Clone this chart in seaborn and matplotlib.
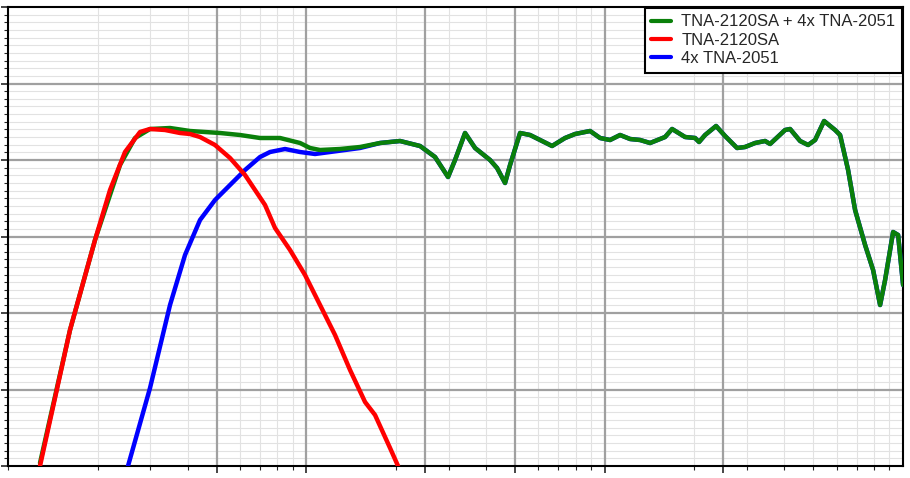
import numpy as np
import pandas as pd
import matplotlib
matplotlib.use("Agg")
import matplotlib.pyplot as plt
import seaborn as sns
from matplotlib.ticker import FixedLocator, MultipleLocator, NullFormatter

# digitized in pixel space -> converted to (Hz, dB)
sum_px = [40,70,95,120,135,150,170,190,220,240,260,280,300,310,320,340,360,380,400,420,435,448,455,465,475,490,497,505,510,520,530,540,552,565,575,590,600,610,620,630,640,650,665,672,685,695,699,705,716,725,737,745,755,765,770,785,790,800,808,815,824,835,840,848,855,865,873,880,885,893,898,903]
sum_py = [463,330,240,165,138,129,128,131,133,135,138,138,143,148,150,149,147,143,141,146,157,177,160,133,148,160,168,183,165,133,135,140,146,138,134,131,138,140,135,139,140,143,137,129,137,138,142,135,126,136,148,147,143,141,144,130,129,141,145,140,121,130,135,170,210,245,270,305,280,232,235,285]
red_px = [40,70,95,110,125,140,150,165,180,190,200,215,230,245,265,275,290,305,320,335,350,365,375,385,390,398]
red_py = [466,330,240,190,152,132,129,130,133,134,137,145,158,175,205,228,250,275,305,335,370,402,415,437,448,466]
blue_px = [128,150,170,185,200,215,230,245,260,270,285,300,315,330,345,360,380,400,420]
blue_py = [466,388,305,255,220,200,185,170,157,152,149,152,154,152,150,148,143,141,146]

def fx(p): return 10 ** (1 + (np.array(p, float) - 8) / 298.3)
def fy(p): return (466 - np.array(p, float)) / 7.65

sum_f, sum_db = fx(sum_px), fy(sum_py)
red_f, red_db = fx(red_px), fy(red_py)
i0 = sum_px.index(420)
blue_f = np.concatenate([fx(blue_px), sum_f[i0 + 1:]])
blue_db = np.concatenate([fy(blue_py), sum_db[i0 + 1:]])

labels = ["TNA-2120SA + 4x TNA-2051", "TNA-2120SA", "4x TNA-2051"]
colors = ["#0a800a", "#ff0000", "#0000ff"]
majors = [50, 100, 250, 500, 1000, 2500]
ymajors = [10, 20, 30, 40, 50]

sns.set_style("white")
plt.rcParams["font.family"] = ["Liberation Sans", "DejaVu Sans"]
fig = plt.figure(figsize=(9.1, 4.78), dpi=100)
ax = fig.add_axes([8 / 910, 12 / 478, 895 / 910, 459 / 478])

dfs = {
    labels[2]: pd.DataFrame({"f": blue_f, "db": blue_db}),
    labels[0]: pd.DataFrame({"f": sum_f, "db": sum_db}),
    labels[1]: pd.DataFrame({"f": red_f, "db": red_db}),
}
handles = {}
for lab in [labels[2], labels[0], labels[1]]:
    c = colors[labels.index(lab)]
    sns.lineplot(data=dfs[lab], x="f", y="db", sort=False, color=c, lw=3.2,
                 ax=ax, solid_joinstyle="round", solid_capstyle="round", zorder=3)
    handles[lab] = ax.lines[-1]

ax.set_xscale("log")
ax.set_xlim(10, 10000)
ax.set_ylim(0, 60)
ax.xaxis.set_major_locator(FixedLocator(majors))
minors = [m * d for d in [10, 100, 1000] for m in range(1, 10)]
ax.xaxis.set_minor_locator(FixedLocator([v for v in minors if v not in majors]))
ax.yaxis.set_major_locator(MultipleLocator(10))
ax.yaxis.set_minor_locator(MultipleLocator(1))
ax.xaxis.set_major_formatter(NullFormatter())
ax.xaxis.set_minor_formatter(NullFormatter())
ax.yaxis.set_major_formatter(NullFormatter())
ax.grid(True, which="minor", color="#e2e2e2", lw=0.8, linestyle="-")
ax.set_axisbelow(True)
for v in majors:
    ax.axvline(v, color="#a0a0a0", lw=1.6, zorder=1)
for v in ymajors:
    ax.axhline(v, color="#a0a0a0", lw=1.6, zorder=1)
ax.set_xlabel("")
ax.set_ylabel("")
for s in ax.spines.values():
    s.set_color("black")
    s.set_linewidth(1.5)
ax.tick_params(axis="y", which="major", left=True, length=5, width=1.2, direction="out")
ax.tick_params(axis="y", which="minor", left=True, length=3, width=0.8, direction="out")
ax.tick_params(axis="x", which="major", bottom=True, length=5, width=1.2, direction="out")
ax.tick_params(axis="x", which="minor", bottom=True, length=3, width=0.8, direction="out")

leg = ax.legend([handles[l] for l in labels], labels, loc="upper right",
                fontsize=12, frameon=True, fancybox=False, framealpha=1,
                edgecolor="black", borderaxespad=0.05, handlelength=1.2,
                labelspacing=0.2, handletextpad=0.6, borderpad=0.4)
leg.set_zorder(5)
leg.get_frame().set_linewidth(1.5)
for l in leg.get_lines():
    l.set_linewidth(3)

fig.savefig("out.png", dpi=100)
